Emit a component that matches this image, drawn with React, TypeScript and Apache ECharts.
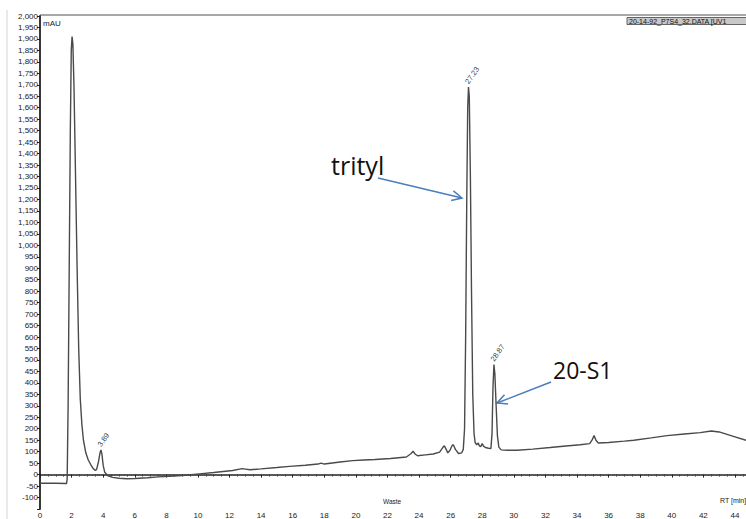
import React, { useEffect, useRef } from "react";
import * as echarts from "echarts";

// Retention time (min) and detector signal (mAU)
const times = [
  0, 1.0, 1.68, 1.72, 1.78, 1.85, 1.92, 1.98, 2.03, 2.08, 2.15, 2.25, 2.35, 2.45, 2.55, 2.65, 2.75, 2.9,
  3.05, 3.2, 3.35, 3.48, 3.58, 3.7, 3.8, 3.86, 3.92, 4.0, 4.1, 4.3, 4.6, 5.0, 5.5, 6.0, 6.8, 7.5, 8.5,
  9.2, 10.1, 11.0, 12.2, 12.8, 13.0, 13.3, 14.0, 15.0, 15.8, 16.8, 17.6, 17.8, 18.0, 19.0, 19.8, 20.5,
  21.2, 22.2, 23.2, 23.5, 23.62, 23.75, 23.9, 24.4, 24.9, 25.3, 25.5, 25.6, 25.7, 25.82, 25.95, 26.1,
  26.17, 26.3, 26.5, 26.7, 26.8, 26.88, 26.95, 27.02, 27.08, 27.13, 27.18, 27.25, 27.32, 27.4, 27.48,
  27.55, 27.65, 27.75, 27.82, 27.9, 28.0, 28.08, 28.2, 28.4, 28.55, 28.62, 28.68, 28.74, 28.8, 28.88,
  28.96, 29.05, 29.2, 29.6, 30.2, 31.2, 32.3, 33.3, 34.2, 34.8, 34.95, 35.08, 35.2, 35.35, 36.0, 37.0,
  37.6, 38.7, 39.7, 40.8, 41.8, 42.5, 43.0, 43.9, 44.7,
];
const signal = [
  -38, -38, -39, -20, 300, 900, 1500, 1850, 1910, 1880, 1700, 1300, 900, 550, 330, 220, 150, 95,
  65, 45, 28, 19, 22, 55, 95, 108, 90, 40, 10, -5, -12, -16, -18, -17, -14, -10, -6,
  -3, 3, 9, 18, 26, 24, 21, 25, 31, 36, 41, 46, 50, 46, 55, 61, 64,
  66, 70, 77, 92, 102, 90, 82, 86, 90, 98, 118, 126, 112, 95, 105, 128,
  130, 110, 92, 95, 110, 200, 600, 1200, 1600, 1690, 1650, 1300, 800, 350, 180,
  140, 130, 138, 125, 122, 135, 124, 118, 115, 114, 180, 380, 480, 440, 300,
  170, 120, 108, 106, 106, 111, 118, 125, 130, 135, 150, 170, 150, 138, 140, 146,
  150, 160, 170, 177, 183, 190, 186, 167, 150,
];

// Integrated peak labels
const peakTimes = [3.86, 27.13, 28.74];
const peakValues = [108, 1690, 480];
const peakLabels = ["3.89", "27.23", "28.87"];

const Y_MIN = -150;
const Y_MAX = 2000;
const Y_STEP = 50;
const X_MIN = 0;
const X_MAX = 44.7;
const X_STEP = 2;

export default function App() {
  const ref = useRef<HTMLDivElement>(null);

  useEffect(() => {
    if (!ref.current) return;
    const chart = echarts.init(ref.current, undefined, { renderer: "svg" });
    const traceData = times.map((t, i) => [t, signal[i]]);
    const peakData = peakTimes.map((t, i) => [t, peakValues[i], peakLabels[i]]);
    const blue = "#4a7ebb";
    const font = "Liberation Sans, Arial, sans-serif";

    chart.setOption({
      animation: false,
      backgroundColor: "#ffffff",
      grid: {
        left: 40,
        right: 0,
        top: 16,
        bottom: 10,
        containLabel: false,
        outerBoundsMode: "none",
      },
      xAxis: {
        type: "value",
        min: X_MIN,
        max: X_MAX,
        interval: X_STEP,
        axisLine: { show: true, lineStyle: { color: "#222", width: 1.5 } },
        axisTick: { show: true, length: 3, lineStyle: { color: "#222" } },
        minorTick: { show: true, splitNumber: 4, length: 2, lineStyle: { color: "#444" } },
        splitLine: { show: false },
        axisLabel: {
          showMaxLabel: false,
          fontSize: 8,
          color: "#222",
          fontFamily: font,
          margin: 2,
          formatter: (v: number) => (Math.abs(v % 2) < 1e-9 ? String(v) : ""),
        },
      },
      yAxis: {
        type: "value",
        min: Y_MIN,
        max: Y_MAX,
        interval: Y_STEP,
        axisLine: { show: true, lineStyle: { color: "#222", width: 1.8 } },
        axisTick: { show: true, length: 3, lineStyle: { color: "#222" } },
        splitLine: { show: false },
        axisLabel: {
          fontSize: 8,
          color: "#222",
          fontFamily: font,
          margin: 2,
          formatter: (v: number) => (v === Y_MIN ? "" : v.toLocaleString("en-US")),
        },
      },
      series: [
        {
          type: "line",
          data: traceData,
          showSymbol: false,
          symbol: "none",
          lineStyle: { color: "#4a4a4a", width: 1.4 },
          z: 2,
        },
        {
          type: "scatter",
          data: peakData,
          encode: { x: 0, y: 1 },
          symbolSize: 1,
          itemStyle: { color: "transparent" },
          label: {
            show: true,
            position: "top",
            distance: 6,
            rotate: 55,
            align: "left",
            verticalAlign: "middle",
            offset: [-3, 0],
            fontSize: 7.5,
            color: "#000",
            textBorderWidth: 0,
            fontFamily: font,
            formatter: (p: any) => p.value[2],
          },
          z: 3,
        },
      ],
      graphic: [
        { type: "line", shape: { x1: 7, y1: 10, x2: 7, y2: 519 }, style: { stroke: "#d4d4d4", lineWidth: 1 } },
        { type: "line", shape: { x1: 40, y1: 15, x2: 746, y2: 15 }, style: { stroke: "#8a8a8a", lineWidth: 1.5 } },
        {
          type: "text",
          left: 43,
          top: 19,
          style: { text: "mAU", fontSize: 8, fill: "#222", fontFamily: font },
        },
        {
          type: "rect",
          shape: { x: 627, y: 17.5, width: 125, height: 7 },
          style: { fill: "#c8c8c8", stroke: "#444", lineWidth: 0.8 },
        },
        {
          type: "text",
          x: 629,
          y: 21,
          style: {
            text: "20-14-92_P7S4_32.DATA [UV1",
            fontSize: 7,
            fill: "#111",
            fontFamily: font,
            verticalAlign: "middle",
          },
        },
        {
          type: "text",
          x: 383,
          y: 501,
          style: { text: "Waste", fontSize: 6.5, fill: "#222", fontFamily: font, verticalAlign: "middle" },
        },
        {
          type: "text",
          x: 720,
          y: 500,
          style: { text: "RT [min]", fontSize: 7, fill: "#222", fontFamily: font, verticalAlign: "middle" },
        },
        {
          type: "text",
          x: 331,
          y: 165,
          style: { text: "trityl", fontSize: 25, fill: "#111", fontFamily: "Open Sans", verticalAlign: "middle" },
        },
        {
          type: "text",
          x: 553,
          y: 370,
          style: { text: "20-S1", fontSize: 23, fill: "#111", fontFamily: "Open Sans", verticalAlign: "middle" },
        },
        { type: "line", shape: { x1: 378, y1: 178, x2: 462, y2: 198 }, style: { stroke: blue, lineWidth: 1.5 } },
        {
          type: "polyline",
          shape: { points: [[453.4, 190.8], [462, 198], [451.1, 200.5]] },
          style: { stroke: blue, lineWidth: 1.5, fill: "none" },
        },
        { type: "line", shape: { x1: 551, y1: 382, x2: 497, y2: 403 }, style: { stroke: blue, lineWidth: 1.5 } },
        {
          type: "polyline",
          shape: { points: [[504.5, 394.7], [497, 403], [508.1, 404.0]] },
          style: { stroke: blue, lineWidth: 1.5, fill: "none" },
        },
      ],
    });

    return () => chart.dispose();
  }, []);

  return (
    <div
      ref={ref}
      style={{ position: "fixed", left: 0, top: 0, width: 746, height: 519, background: "#fff" }}
    />
  );
}
